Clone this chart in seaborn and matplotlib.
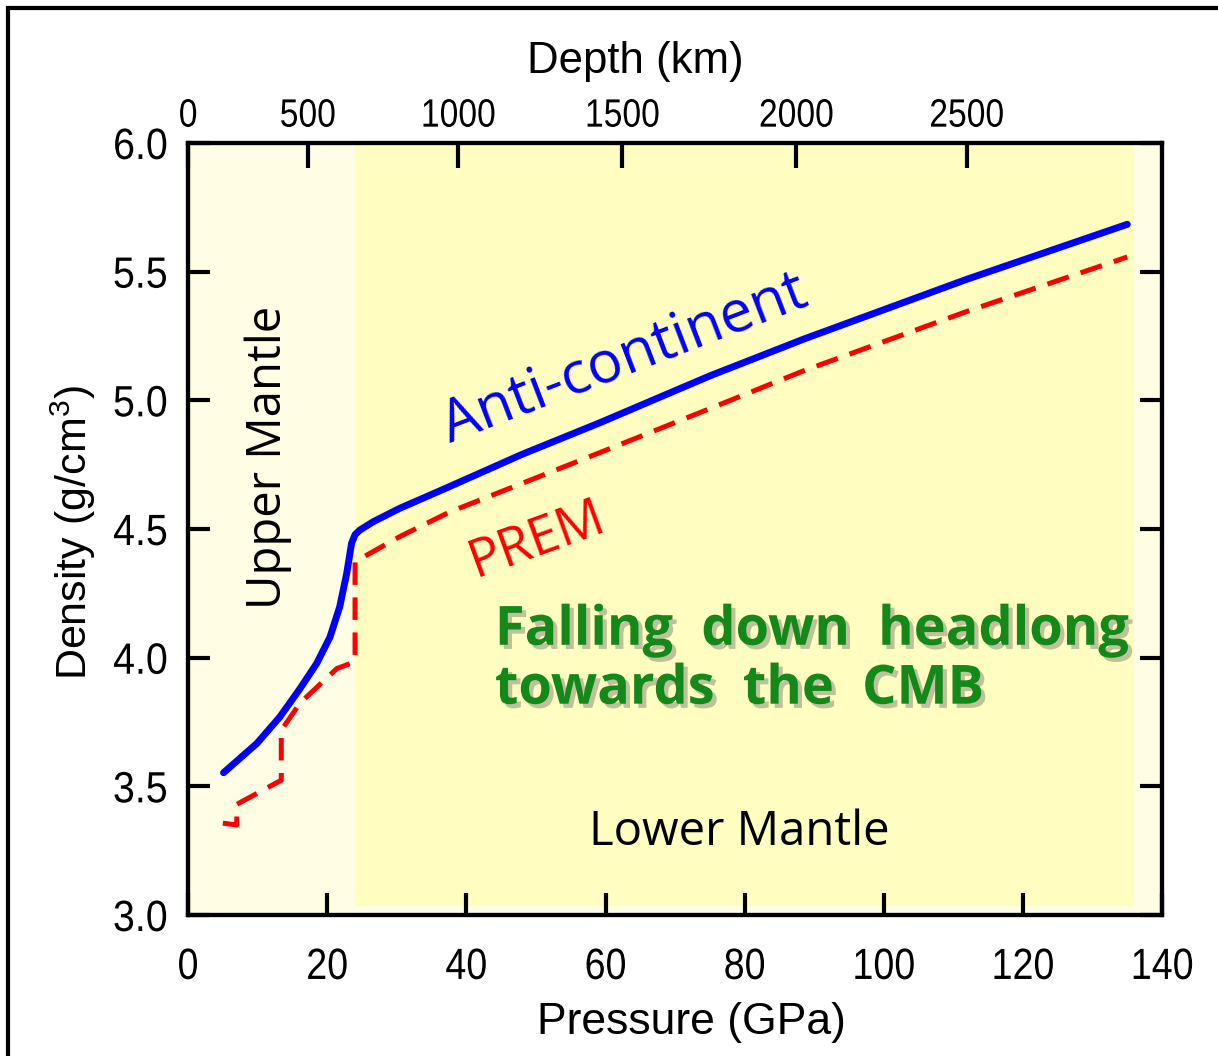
import matplotlib
matplotlib.use("Agg")
import matplotlib.pyplot as plt
import seaborn as sns
import pandas as pd
from matplotlib import font_manager as fm
from matplotlib import patheffects as pe
from matplotlib.patches import Rectangle
from matplotlib.transforms import Affine2D

# ---------------- data ----------------
anti_pressure = [5.1, 9.9, 13.2, 16.1, 18.5, 20.4, 21.8, 22.8, 23.5, 24.0, 24.7, 26.6, 30.4,
                 37.6, 48.0, 59.2, 75.0, 88.5, 111.9, 135.0]
anti_density = [3.553, 3.667, 3.77, 3.88, 3.978, 4.08, 4.198, 4.327, 4.444, 4.478, 4.496, 4.528, 4.58,
                4.665, 4.79, 4.913, 5.095, 5.238, 5.47, 5.684]

prem_pressure = [5.0, 7.0, 7.0, 13.4, 13.4, 16.1, 21.4, 24.0, 24.0, 30.4, 37.6, 59.2, 74.0, 88.5, 111.9, 135.0]
prem_density = [3.357, 3.35, 3.43, 3.524, 3.718, 3.824, 3.958, 3.984, 4.373, 4.47, 4.566, 4.797, 4.957, 5.115, 5.345, 5.557]

pressure_ticks = [0, 20, 40, 60, 80, 100, 120, 140]
density_ticks = [3.0, 3.5, 4.0, 4.5, 5.0, 5.5, 6.0]
depth_labels = ["0", "500", "1000", "1500", "2000", "2500"]
depth_tick_pressure = [0.0, 17.2, 38.8, 62.4, 87.4, 111.9]

upper_mantle_span = (0, 24)
lower_mantle_span = (24, 136)


# ---------------- helpers ----------------
def pick(names):
    for n in names:
        try:
            fm.findfont(fm.FontProperties(family=n), fallback_to_default=False)
            return n
        except Exception:
            pass
    return "DejaVu Sans"


class Condense(pe.AbstractPathEffect):
    """Horizontally condense text glyphs around a fixed anchor."""

    def __init__(self, sx=0.85, anchor="center"):
        super().__init__()
        self.sx = sx
        self.anchor = anchor

    def draw_path(self, renderer, gc, tpath, affine, rgbFace=None):
        ext = tpath.get_extents()
        if self.anchor == "right":
            cx = ext.x1
        elif self.anchor == "left":
            cx = 0.0
        else:
            cx = 0.5 * (ext.x0 + ext.x1)
        t = Affine2D().scale(self.sx, 1.0).translate((1 - self.sx) * cx, 0) + affine
        renderer.draw_path(gc, tpath, t, rgbFace)


axis_font = pick(["Liberation Sans", "Arimo", "DejaVu Sans"])
note_font = pick(["Open Sans", "Lato", "DejaVu Sans"])

sns.set_theme(style="ticks")
plt.rcParams["font.family"] = [axis_font, "DejaVu Sans"]
plt.rcParams["text.color"] = "black"
plt.rcParams["axes.labelcolor"] = "black"
plt.rcParams["xtick.color"] = "black"
plt.rcParams["ytick.color"] = "black"
plt.rcParams["mathtext.fontset"] = "custom"
plt.rcParams["mathtext.rm"] = axis_font

fig = plt.figure(figsize=(12.18, 10.56), dpi=100)
fig.patch.set_facecolor("white")
ax = fig.add_axes([0.1544, 0.1335, 0.7997, 0.7311])

ax.set_facecolor("#FFFDE4")
ax.axvspan(*lower_mantle_span, ymin=0.012, ymax=1.0, color="#FFFDC0", lw=0, zorder=0)

df_anti = pd.DataFrame({"Pressure": anti_pressure, "Density": anti_density})
df_prem = pd.DataFrame({"Pressure": prem_pressure, "Density": prem_density})

sns.lineplot(data=df_anti, x="Pressure", y="Density", ax=ax, color="#0000FF",
             linewidth=5, estimator=None, sort=False, zorder=3)
sns.lineplot(data=df_prem, x="Pressure", y="Density", ax=ax, color="#FF0000",
             linewidth=3.6, estimator=None, sort=False, zorder=3)
ax.lines[-1].set_dashes([4.5, 2.5])
ax.lines[-1].set_dash_capstyle("butt")

ax.set_xlim(0, 140)
ax.set_ylim(3.0, 6.0)
ax.set_xticks(pressure_ticks)
xl = ax.set_xticklabels([str(v) for v in pressure_ticks])
ax.set_yticks(density_ticks)
yl = ax.set_yticklabels([f"{v:.1f}" for v in density_ticks])

for s in ax.spines.values():
    s.set_linewidth(3)
    s.set_color("black")
    s.set_visible(True)

ax.tick_params(axis="x", direction="in", length=16, width=3, bottom=True, top=False,
               labelsize=31.5, pad=23)
ax.tick_params(axis="y", direction="in", length=16, width=3, left=True, right=True,
               labelsize=31.5, pad=14.5)
for t in xl:
    t.set_path_effects([Condense(0.86, "center")])
for t in yl:
    t.set_path_effects([Condense(0.9, "right")])

ax.set_xlabel("Pressure (GPa)", fontsize=32)
ax.xaxis.set_label_coords((691 - 188) / 974, -(1022 - 915) / 772)
ax.xaxis.label.set_verticalalignment("center")
ax.set_ylabel("Density (g/cm$^3$)", fontsize=31)
ax.yaxis.set_label_coords((73 - 188) / 974, (915 - 533) / 772)
ax.yaxis.label.set_verticalalignment("center")

ax2 = ax.twiny()
ax2.set_xlim(0, 140)
ax2.set_xticks(depth_tick_pressure)
tl = ax2.set_xticklabels(depth_labels)
ax2.tick_params(axis="x", direction="in", length=18, width=3, top=True, bottom=False,
                labelsize=28.5, pad=6)
for t in tl:
    t.set_path_effects([Condense(0.85, "center")])
for s in ax2.spines.values():
    s.set_linewidth(3)
    s.set_color("black")
ax2.set_xlabel("Depth (km)", fontsize=31.5)
ax2.xaxis.set_label_coords((635 - 188) / 974, 1 + (143 - 62) / 772)
ax2.xaxis.label.set_verticalalignment("center")
ax2.grid(False)
ax.grid(False)

# ---------------- annotations ----------------
ax.text(62.8, 5.16, "Anti-continent", color="#0000FF", fontsize=42, rotation=21,
        rotation_mode="anchor", ha="center", va="center", family=note_font, zorder=4)
ax.text(50.2, 4.457, "PREM", color="#FF0000", fontsize=38, rotation=20,
        rotation_mode="anchor", ha="center", va="center", family=note_font, zorder=4)
ax.text(11.5, 4.78, "Upper Mantle", color="black", fontsize=34, rotation=90,
        ha="center", va="center", family=note_font, zorder=4)
ax.text(79.3, 3.322, "Lower Mantle", color="black", fontsize=34,
        ha="center", va="center", family=note_font, zorder=4)
ax.text(44.1, 3.99, "Falling  down  headlong\ntowards  the  CMB", color="#13891A",
        fontsize=39, fontweight="bold", ha="left", va="center", linespacing=1.12,
        family=note_font, zorder=4,
        path_effects=[pe.withSimplePatchShadow(offset=(3, -3), shadow_rgbFace="0.4", alpha=0.4)])

# outer frame (top and left edges visible)
fig.add_artist(Rectangle((8 / 1218, -0.05), 1.2, 1 - 8 / 1056 + 0.05,
                         transform=fig.transFigure, fill=False, edgecolor="black",
                         linewidth=3, clip_on=False))

fig.savefig("out.png", dpi=100)
